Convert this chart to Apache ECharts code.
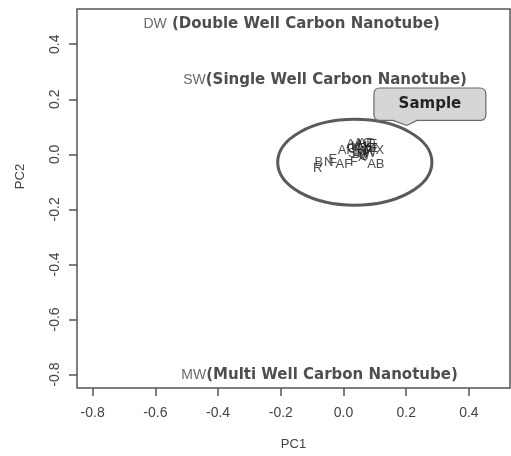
<!DOCTYPE html>
<html>
<head>
<meta charset="utf-8">
<script src="https://cdn.jsdelivr.net/npm/echarts@6/dist/echarts.min.js"></script>
<style>
  html, body { margin: 0; padding: 0; background: #fff; }
  #chart { width: 511px; height: 456px; }
</style>
</head>
<body>
<div id="chart"></div>
<script>
// sample scores on the first two components
const sampleNames = [
  "B", "R", "N", "E", "AF", "F", "X", "C", "AB", "AI", "E", "X",
  "G", "H", "I", "J", "K", "L", "M", "O", "P", "Q", "S", "T", "U", "V", "W", "Z", "AA", "AC", "AD"
];
const samplePC1 = [
  -0.079, -0.082, -0.047, -0.034, 0.001, 0.033, 0.059, 0.065, 0.103, 0.001, 0.094, 0.116,
  0.027, 0.039, 0.052, 0.065, 0.078, 0.039, 0.052, 0.065, 0.078, 0.087, 0.027, 0.046, 0.059, 0.071, 0.084, 0.097, 0.036, 0.062, 0.074
];
const samplePC2 = [
  -0.031, -0.053, -0.031, -0.017, -0.038, -0.028, -0.013, -0.006, -0.035, 0.015, 0.037, 0.015,
  0.023, 0.030, 0.033, 0.026, 0.030, 0.008, 0.012, 0.012, 0.015, 0.023, 0.005, -0.002, 0.001, 0.001, 0.005, 0.023, 0.037, 0.041, 0.041
];

// reference nanotube types
const refNames = ["DW", "SW", "MW"];
const refNotes = [" (Double Well Carbon Nanotube)", "(Single Well Carbon Nanotube)", "(Multi Well Carbon Nanotube)"];
const refPC1 = [-0.600, -0.473, -0.479];
const refPC2 = [0.480, 0.277, -0.794];

// sample ellipse: centre and half widths
const ellipseCenter = [0.036, -0.029];
const ellipseRadius = [0.246, 0.156];

const xTicks = [-0.8, -0.6, -0.4, -0.2, 0.0, 0.2, 0.4];
const yTicks = [-0.8, -0.6, -0.4, -0.2, 0.0, 0.2, 0.4];

// callout box corners (PC1 left, PC2 top, PC1 right, PC2 bottom)
const calloutBox = [0.097, 0.241, 0.454, 0.123];

const textFont = "Liberation Sans, Arial, sans-serif";
const noteFont = "DejaVu Sans, sans-serif";

const chart = echarts.init(document.getElementById("chart"));

const sampleData = sampleNames.map((n, i) => ({ name: n, value: [samplePC1[i], samplePC2[i]] }));
const refData = refNames.map((n, i) => ({ name: n, note: refNotes[i], value: [refPC1[i], refPC2[i]] }));

function ellipsePath(cx, cy, rx, ry) {
  return "M" + (cx - rx) + " " + cy +
    " A" + rx + " " + ry + " 0 1 0 " + (cx + rx) + " " + cy +
    " A" + rx + " " + ry + " 0 1 0 " + (cx - rx) + " " + cy + " Z";
}

function calloutPath(x0, y0, x1, y1) {
  const r = 6;
  const px = x0 + 33; // pointer
  return "M" + (x0 + r) + " " + y0 +
    " L" + (x1 - r) + " " + y0 + " Q" + x1 + " " + y0 + " " + x1 + " " + (y0 + r) +
    " L" + x1 + " " + (y1 - r) + " Q" + x1 + " " + y1 + " " + (x1 - r) + " " + y1 +
    " L" + (px + 10) + " " + y1 + " L" + px + " " + (y1 + 5) + " L" + (px - 14) + " " + y1 +
    " L" + (x0 + r) + " " + y1 + " Q" + x0 + " " + y1 + " " + x0 + " " + (y1 - r) +
    " L" + x0 + " " + (y0 + r) + " Q" + x0 + " " + y0 + " " + (x0 + r) + " " + y0 + " Z";
}

const option = {
  animation: false,
  grid: {
    left: 77, right: 1, top: 9, bottom: 63,
    show: true, borderColor: "#555", borderWidth: 1.5
  },
  xAxis: {
    type: "value",
    min: -0.850, max: 0.531,
    name: "PC1",
    nameLocation: "middle",
    nameGap: 50,
    nameTextStyle: { fontFamily: textFont, fontSize: 13, color: "#444" },
    axisLine: { show: false, onZero: false },
    splitLine: { show: false },
    axisTick: { show: true, customValues: xTicks, length: 8, lineStyle: { color: "#555", width: 1.5 } },
    axisLabel: { customValues: xTicks, formatter: v => v.toFixed(1), fontFamily: textFont, fontSize: 14, color: "#444", margin: 18 }
  },
  yAxis: {
    type: "value",
    min: -0.849, max: 0.528,
    name: "PC2",
    nameLocation: "middle",
    nameGap: 50,
    nameRotate: 90,
    nameTextStyle: { fontFamily: textFont, fontSize: 13, color: "#444", padding: [0, 0, 0, 44] },
    axisLine: { show: false, onZero: false },
    splitLine: { show: false },
    axisTick: { show: true, customValues: yTicks, length: 8, lineStyle: { color: "#555", width: 1.5 } },
    axisLabel: { customValues: yTicks, formatter: v => v.toFixed(1), rotate: 90, fontFamily: textFont, fontSize: 14, color: "#444", margin: 15 }
  },
  series: [
    {
      type: "custom",
      clip: false,
      data: [[ellipseCenter[0], ellipseCenter[1], ellipseRadius[0], ellipseRadius[1]]],
      renderItem: function (params, api) {
        const c = api.coord([api.value(0), api.value(1)]);
        const s = api.size([api.value(2), api.value(3)]);
        const a = api.coord([calloutBox[0], calloutBox[1]]);
        const b = api.coord([calloutBox[2], calloutBox[3]]);
        return {
          type: "group",
          children: [
            {
              type: "path",
              shape: { pathData: ellipsePath(c[0], c[1], s[0], s[1]) },
              style: { fill: "none", stroke: "#5a5a5a", lineWidth: 3 }
            },
            {
              type: "path",
              shape: { pathData: calloutPath(a[0], a[1], b[0], b[1]) },
              style: { fill: "#d6d6d6", stroke: "#6a6a6a", lineWidth: 1.2 }
            },
            {
              type: "text",
              x: (a[0] + b[0]) / 2,
              y: (a[1] + b[1]) / 2,
              style: { text: "Sample", font: "bold 15px " + noteFont, fill: "#222", align: "center", verticalAlign: "middle" }
            }
          ]
        };
      }
    },
    {
      type: "scatter",
      data: sampleData,
      symbolSize: 1,
      itemStyle: { color: "rgba(0,0,0,0)" },
      label: {
        show: true,
        position: "inside",
        formatter: p => p.name,
        fontFamily: textFont,
        fontSize: 13,
        color: "#222"
      }
    },
    {
      type: "scatter",
      data: refData,
      symbolSize: 1,
      itemStyle: { color: "rgba(0,0,0,0)" },
      label: {
        show: true,
        position: "inside",
        align: "left",
        offset: [-12, 2],
        formatter: p => "{s|" + p.name + "}{b|" + p.data.note + "}",
        rich: {
          s: { fontFamily: textFont, fontSize: 14, color: "#444", verticalAlign: "middle" },
          b: { fontFamily: noteFont, fontSize: 15, fontWeight: "bold", color: "#222", verticalAlign: "middle" }
        }
      }
    }
  ]
};

chart.setOption(option);
</script>
</body>
</html>
